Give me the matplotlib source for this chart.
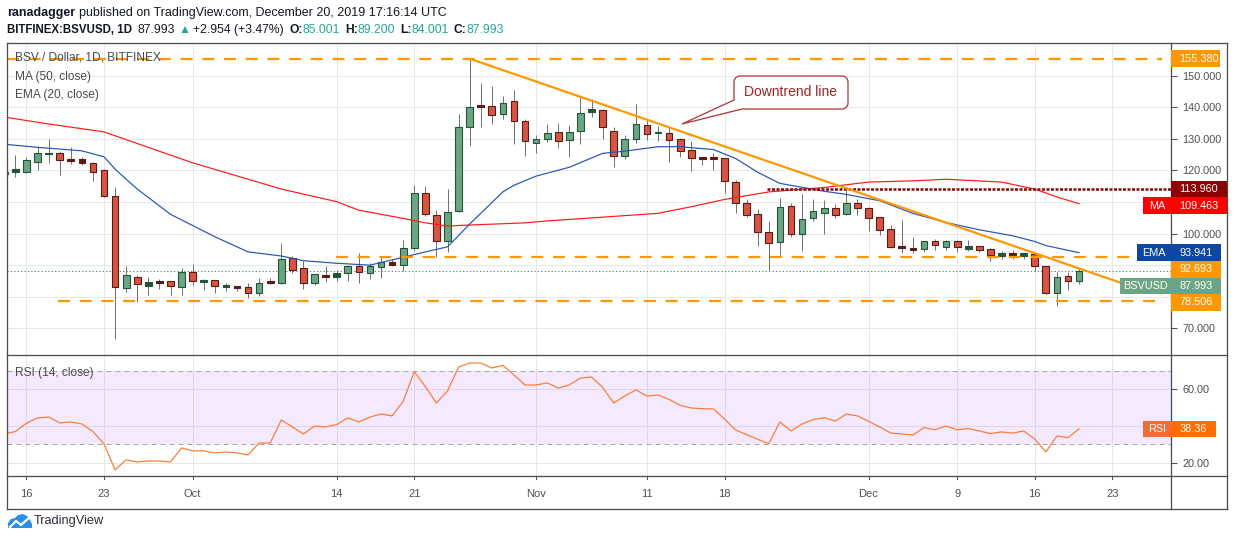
import numpy as np
import pandas as pd
import matplotlib
matplotlib.use("Agg")
import matplotlib.pyplot as plt
from matplotlib.patches import Rectangle, Polygon
from matplotlib.lines import Line2D

# ---------------- data ----------------
start_date = "2019-09-14"
opens = [118.9, 119.4, 119.6, 122.8, 125.3, 125.4, 123.3, 123.5, 122.5, 120.0,
         111.8, 82.7, 86.1, 83.5, 84.6, 84.9, 83.0, 87.9, 84.8, 85.2,
         83.3, 83.4, 83.0, 81.1, 84.9, 84.5, 92.4, 89.0, 84.2, 86.7,
         86.3, 87.4, 89.6, 87.4, 89.3, 90.9, 90.2, 95.3, 112.7, 106.0,
         97.7, 107.2, 133.6, 140.6, 140.5, 138.0, 142.0, 135.5, 128.7, 130.1,
         132.3, 129.6, 132.4, 138.5, 139.0, 132.6, 124.5, 129.8, 134.4, 131.9,
         132.0, 129.8, 126.4, 124.1, 124.1, 123.8, 116.4, 109.8, 106.3, 100.6,
         97.4, 108.7, 100.0, 104.8, 106.6, 108.0, 106.1, 109.6, 108.0, 105.1,
         101.6, 96.0, 95.4, 95.0, 97.5, 95.6, 97.8, 95.2, 96.0, 95.0,
         93.0, 93.7, 93.0, 93.4, 89.6, 81.2, 86.5, 85.001]
highs = [121.0, 124.9, 124.1, 127.7, 130.1, 126.1, 127.3, 124.2, 122.6, 120.4,
         114.6, 89.7, 86.8, 86.2, 85.5, 85.0, 89.0, 90.3, 85.6, 85.3,
         84.2, 83.5, 84.2, 85.9, 85.9, 97.1, 92.8, 91.4, 87.3, 89.7,
         88.4, 89.7, 93.9, 90.6, 92.8, 92.1, 97.9, 115.3, 115.0, 107.6,
         114.1, 138.0, 155.38, 147.8, 146.6, 143.5, 145.4, 136.4, 131.1, 134.6,
         134.9, 134.3, 143.1, 142.5, 139.3, 133.9, 131.1, 141.0, 136.4, 134.0,
         133.3, 130.4, 129.3, 124.2, 125.4, 123.9, 116.9, 111.1, 107.9, 104.0,
         111.4, 109.8, 112.5, 110.8, 110.6, 109.5, 113.5, 110.8, 108.3, 105.2,
         102.7, 104.3, 99.0, 97.8, 98.2, 97.9, 97.9, 97.9, 96.1, 95.5,
         94.4, 94.8, 93.8, 93.5, 89.7, 87.9, 87.9, 89.2]
lows = [118.0, 118.0, 119.3, 120.1, 122.2, 118.7, 121.9, 121.7, 116.6, 111.5,
        66.6, 81.6, 78.4, 80.7, 82.6, 80.7, 80.7, 83.8, 82.2, 81.3,
        81.9, 81.9, 79.5, 80.2, 83.9, 83.9, 87.4, 82.3, 83.7, 84.8,
        85.0, 85.0, 84.4, 85.5, 85.8, 89.7, 88.2, 94.5, 105.6, 92.6,
        94.2, 106.9, 127.8, 133.8, 134.6, 136.2, 128.4, 124.5, 125.6, 129.1,
        127.2, 124.3, 128.5, 136.8, 129.8, 121.1, 123.5, 128.8, 129.6, 129.4,
        122.7, 124.3, 119.9, 121.7, 120.1, 112.9, 106.6, 105.3, 96.1, 88.5,
        93.2, 99.0, 94.5, 104.1, 99.8, 105.0, 106.0, 105.9, 100.9, 99.5,
        95.5, 93.9, 93.9, 94.2, 94.8, 94.8, 94.2, 94.6, 94.2, 91.4,
        92.0, 92.0, 92.0, 88.2, 80.8, 77.2, 82.1, 84.001]
closes = [119.3, 120.3, 123.2, 125.4, 125.4, 123.2, 123.2, 122.5, 119.4, 111.8,
          83.0, 86.8, 83.9, 84.6, 84.5, 83.3, 87.9, 84.9, 85.2, 83.3,
          83.5, 83.0, 81.1, 84.2, 84.5, 92.1, 88.6, 84.2, 87.1, 86.3,
          87.4, 89.6, 87.7, 89.6, 90.9, 89.9, 95.3, 112.7, 106.1, 97.7,
          106.7, 133.6, 140.2, 140.4, 137.7, 141.2, 135.7, 129.3, 130.1, 132.0,
          129.3, 132.3, 138.3, 139.6, 133.6, 124.5, 130.1, 134.8, 131.4, 132.1,
          129.5, 126.3, 124.0, 123.5, 123.7, 116.8, 109.7, 106.0, 100.6, 97.1,
          108.3, 100.0, 104.5, 107.0, 108.0, 106.0, 109.6, 108.2, 104.8, 101.0,
          95.8, 95.5, 94.9, 97.5, 96.3, 97.8, 95.8, 96.0, 94.7, 93.1,
          93.7, 93.1, 93.7, 89.6, 81.2, 86.1, 85.0, 87.993]

ma_days = [0, 4, 9, 17, 25, 30, 32, 36, 38, 40, 42, 47, 49, 59, 62, 65, 69, 74, 78, 82, 85, 90, 93, 95, 97]
ma_vals = [136.9, 134.7, 132.2, 122.4, 114.1, 110.1, 107.4, 104.8, 103.4, 102.4, 102.7, 103.4, 104.0,
           106.4, 108.5, 110.8, 113.2, 114.6, 116.3, 116.7, 117.2, 116.3, 114.1, 111.6, 109.463]
ema_days = [0, 3, 7, 9, 10, 11, 12, 15, 19, 22, 25, 27, 30, 33, 36, 38, 40, 42, 45, 46, 48, 51, 54, 56,
            59, 61, 64, 66, 68, 70, 74, 76, 79, 82, 85, 88, 91, 93, 94, 97]
ema_vals = [128.3, 127.3, 126.2, 124.3, 120.4, 117.2, 114.1, 106.1, 99.0, 94.2, 92.9, 91.4, 90.6, 90.0,
            92.5, 94.2, 95.8, 103.0, 113.2, 115.3, 118.2, 121.0, 125.4, 126.1, 127.5, 127.5, 126.6,
            123.8, 119.4, 115.9, 113.4, 112.4, 110.4, 106.4, 103.5, 101.2, 99.3, 97.5, 96.2, 93.941]
rsi_vals = [35.6, 36.9, 41.4, 44.3, 44.8, 41.6, 42.1, 41.0, 36.9, 30.2,
            16.1, 21.5, 20.4, 20.9, 20.9, 20.4, 28.0, 26.4, 26.4, 25.3,
            25.8, 25.3, 24.2, 30.7, 30.7, 43.2, 39.4, 35.6, 39.9, 39.4,
            40.7, 44.3, 42.1, 44.8, 46.4, 45.4, 53.3, 69.4, 61.3, 52.4,
            58.9, 71.9, 74.1, 74.1, 71.4, 72.8, 67.6, 62.2, 62.2, 63.3,
            60.5, 62.2, 66.0, 66.5, 60.9, 52.4, 56.2, 59.5, 56.2, 56.7,
            54.4, 51.1, 49.7, 49.3, 49.2, 43.7, 37.8, 35.2, 32.7, 30.3,
            42.1, 37.2, 41.0, 43.4, 44.4, 42.6, 46.4, 45.4, 42.5, 39.4,
            36.1, 35.6, 35.0, 39.0, 37.9, 39.9, 37.9, 38.5, 37.2, 35.8,
            36.7, 36.1, 37.2, 32.9, 25.8, 34.5, 33.6, 38.36]

tick_days = [2, 9, 17, 30, 37, 48, 58, 65, 78, 86, 93, 100]
tick_labels = ["16", "23", "Oct", "14", "21", "Nov", "11", "18", "Dec", "9", "16", "23"]
price_grid = [70, 80, 90, 100, 110, 120, 130, 140, 150]
price_labeled = [70, 100, 120, 130, 140, 150]
rsi_grid = [20, 40, 60]
rsi_labeled = [20, 60]

resistance_top = 155.380
resistance_dotted = 113.960
support_mid = 92.693
support_low = 78.506
trend_start = (42, 155.38)
trend_end = (100.7, 84.5)

dates = pd.date_range(start_date, periods=len(closes), freq="D")
days = np.arange(len(dates))

# ---------------- figure ----------------
W, H, DPI = 1234, 540, 100
plt.rcParams['font.family'] = ['Liberation Sans', 'DejaVu Sans']
plt.rcParams['lines.scale_dashes'] = False
fig = plt.figure(figsize=(W / DPI, H / DPI), dpi=DPI)
fig.patch.set_facecolor('white')

def fx(x): return x / W
def fy(y): return 1 - y / H

L, R = 6.7, 1171.0
T, PB, RB, DB = 43.3, 355.0, 476.0, 509.0
RIGHT = 1227.0
PX = 0.72  # points per pixel

ax = fig.add_axes([fx(L), fy(PB), fx(R) - fx(L), (PB - T) / H])
axr = fig.add_axes([fx(L), fy(RB), fx(R) - fx(L), (RB - PB) / H])
axd = fig.add_axes([fx(L), fy(DB), fx(R) - fx(L), (DB - RB) / H])

xlo, xhi = (L - 4.3) / 11.08, (R - 4.3) / 11.08
plo, phi = 61.55, 160.25
rlo, rhi = 12.78, 78.45
for a in (ax, axr, axd):
    a.set_xlim(xlo, xhi)
    a.set_facecolor('white')
    for s in a.spines.values():
        s.set_visible(False)
ax.set_ylim(plo, phi)
axr.set_ylim(rlo, rhi)
axd.set_ylim(0, 1)
axd.set_xticks([]); axd.set_yticks([])

GRID = '#e8e8e8'
for a in (ax, axr):
    for d in tick_days:
        a.axvline(d, color=GRID, lw=PX, zorder=0)
for p in price_grid:
    ax.axhline(p, color=GRID, lw=PX, zorder=0)
for r in rsi_grid:
    axr.axhline(r, color=GRID, lw=PX, zorder=0)

# ticks on right
ax.set_xticks([]); axr.set_xticks([])
ax.yaxis.tick_right()
ax.set_yticks(price_labeled)
ax.set_yticklabels([f"{p:.3f}" for p in price_labeled])
axr.yaxis.tick_right()
axr.set_yticks(rsi_labeled)
axr.set_yticklabels([f"{r:.2f}" for r in rsi_labeled])
for a in (ax, axr):
    a.tick_params(axis='y', length=4, width=0.8, color='#555555', pad=4,
                  labelsize=7.8, labelcolor='#4f4f4f')

# ---------------- candles ----------------
ppu = (PB - T) / (phi - plo)
for i in days:
    o, h, l, c = opens[i], highs[i], lows[i], closes[i]
    up = c >= o
    edge = '#225437' if up else '#5b1a13'
    fill = '#6ba583' if up else '#d75442'
    body = abs(c - o)
    if body * ppu < 3.6:
        fill = edge
    bh = max(body, 0.6)
    bottom = min(o, c) if body >= 0.6 else (o + c) / 2 - 0.3
    ax.vlines(i, l, h, color='#737375', lw=1.0 * PX, zorder=3)
    ax.add_patch(Rectangle((i - 0.3, bottom), 0.6, bh, facecolor=fill,
                           edgecolor=edge, lw=1.1 * PX, zorder=4))

# MA / EMA
ax.plot(ma_days, ma_vals, color='#ff1a1a', lw=1.2 * PX, zorder=5)
ax.plot(ema_days, ema_vals, color='#2456b8', lw=1.2 * PX, zorder=5)

# horizontal levels
ORANGE = '#ff9800'
dash = (12 * PX, 9.7 * PX)
ax.plot([xlo, 104.5], [resistance_top] * 2, color=ORANGE, lw=2.2 * PX, dashes=dash, zorder=6)
ax.plot([29.9, 104.5], [support_mid] * 2, color=ORANGE, lw=2.2 * PX, dashes=dash, zorder=6)
ax.plot([4.85, 104.5], [support_low] * 2, color=ORANGE, lw=2.2 * PX, dashes=dash, zorder=6)
ax.plot([68.8, xhi], [resistance_dotted] * 2, color='#8b0f0f', lw=2.6 * PX,
        dashes=(3 * PX, 1.5 * PX), zorder=6)
ax.plot([xlo, xhi], [closes[-1]] * 2, color='#3f8a60', lw=1.0 * PX,
        dashes=(1.2 * PX, 2.2 * PX), zorder=2)
# downtrend line
ax.plot([trend_start[0], trend_end[0]], [trend_start[1], trend_end[1]],
        color=ORANGE, lw=2.2 * PX, zorder=7, solid_capstyle='round')

# ---------------- RSI ----------------
axr.axhspan(30, 70, facecolor='#9915ff', alpha=0.09, lw=0, zorder=1)
for lv in (30, 70):
    axr.axhline(lv, color='#aaa3b0', lw=1.0 * PX, dashes=(5 * PX, 4 * PX), zorder=2)
axr.plot(days, rsi_vals, color='#ff7a2e', lw=1.2 * PX, zorder=5)

# ---------------- date axis ----------------
for d, lab in zip(tick_days, tick_labels):
    axd.plot([d, d], [0.91, 1.0], color='#555555', lw=0.8)
    axd.text(d, 0.46, lab, ha='center', va='center', fontsize=8.0, color='#4f4f4f')

# ---------------- frame lines ----------------
FRAME = '#4d4d4d'
def fline(x0, y0, x1, y1, lw=1.3, color=FRAME):
    fig.add_artist(Line2D([fx(x0), fx(x1)], [fy(y0), fy(y1)], transform=fig.transFigure,
                          color=color, lw=lw * PX, zorder=8))
fline(L, T, RIGHT, T)
fline(L, DB, RIGHT, DB)
fline(L, T, L, DB)
fline(RIGHT, T, RIGHT, DB)
fline(R, T, R, DB)
fline(L, PB, RIGHT, PB)
fline(L, RB, RIGHT, RB)

# ---------------- right-axis labels ----------------
def ypx_price(p):
    return PB - (p - plo) * ppu

def ypx_rsi(r):
    return RB - (r - rlo) * (RB - PB) / (rhi - rlo)

def box(x0, x1, yc, text, bg, h=16.6, align='left', fg='white', size=7.8):
    fig.add_artist(Rectangle((fx(x0), fy(yc + h / 2)), fx(x1) - fx(x0), h / H,
                             transform=fig.transFigure, facecolor=bg, edgecolor='none', zorder=9))
    if align == 'left':
        fig.text(fx(1179.5), fy(yc), text, ha='left', va='center', color=fg, fontsize=size, zorder=10)
    else:
        fig.text(fx((x0 + x1) / 2), fy(yc), text, ha='center', va='center', color=fg,
                 fontsize=size, zorder=10)

y_ema = ypx_price(ema_vals[-1])
box(R, 1220, ypx_price(resistance_top), f"{resistance_top:.3f}", ORANGE)
box(R, RIGHT, ypx_price(resistance_dotted), f"{resistance_dotted:.3f}", '#8b0000')
y_ma = ypx_price(ma_vals[-1]) + 2
box(1143, R, y_ma, "MA", '#ff0000', align='center')
box(R, RIGHT, y_ma, f"{ma_vals[-1]:.3f}", '#ff0000')
box(1137, R, y_ema, "EMA", '#0d47a1', align='center')
box(R, 1221, y_ema, f"{ema_vals[-1]:.3f}", '#0d47a1')
box(R, 1221, y_ema + 16.6, f"{support_mid:.3f}", ORANGE)
box(1120, R, y_ema + 33.2, "BSVUSD", '#6ba583', align='center')
box(R, 1221, y_ema + 33.2, f"{closes[-1]:.3f}", '#6ba583')
box(R, 1221, ypx_price(support_low) + 1, f"{support_low:.3f}", ORANGE)
y_rsi = ypx_rsi(rsi_vals[-1])
box(1143, R, y_rsi, "RSI", '#f26b38', align='center')
box(R, 1216, y_rsi, f"{rsi_vals[-1]:.2f}", '#ff6d00')

# ---------------- pane legends ----------------
LEG = '#4a4a4a'
fig.text(fx(15), fy(58), "BSV / Dollar, 1D, BITFINEX", fontsize=8.6, color=LEG, va='center')
fig.text(fx(15), fy(77), "MA (50, close)", fontsize=8.6, color=LEG, va='center')
fig.text(fx(15), fy(95), "EMA (20, close)", fontsize=8.6, color=LEG, va='center')
fig.text(fx(15), fy(373), "RSI (14, close)", fontsize=8.6, color=LEG, va='center')

# ---------------- callout ----------------
def arc(cx, cy, r, a0, a1, n=8):
    a = np.radians(np.linspace(a0, a1, n))
    return list(zip(cx + r * np.cos(a), cy + r * np.sin(a)))

bl, br, bt, bb, rr = 734.0, 848.0, 76.0, 109.0, 6.0
pts = []
pts += arc(bl + rr, bt + rr, rr, 180, 270)
pts += arc(br - rr, bt + rr, rr, 270, 360)
pts += arc(br - rr, bb - rr, rr, 0, 90)
pts += [(742.0, bb), (682.0, 124.0), (bl, 100.0)]
fig.add_artist(Polygon([(fx(x), fy(y)) for x, y in pts], closed=True, transform=fig.transFigure,
                       facecolor='white', edgecolor='#b03a3a', lw=1.3 * PX, zorder=9))
fig.text(fx((bl + br) / 2), fy(92.5), "Downtrend line", ha='center', va='center',
         fontsize=10, color='#a32424', zorder=10)

# ---------------- header ----------------
renderer = fig.canvas.get_renderer()

def seq_text(x, y, pieces):
    for s, color, weight, gap, size in pieces:
        t = fig.text(fx(x), fy(y), s, color=color, fontsize=size, fontweight=weight,
                     ha='left', va='center')
        bb = t.get_window_extent(renderer)
        x = bb.x1 + gap

DARK = '#131722'
TEAL = '#26a69a'
seq_text(7, 13, [("ranadagger", DARK, 'bold', 3.5, 9.0),
                 ("published on TradingView.com, December 20, 2019 17:16:14 UTC", DARK, 'normal', 0, 9.0)])
S2 = 8.7
seq_text(7, 30, [("BITFINEX:BSVUSD, 1D", DARK, 'bold', 5, 8.3),
                 ("87.993", DARK, 'normal', 4, S2),
                 ("\u25B2", TEAL, 'normal', 3, S2),
                 ("+2.954 (+3.47%)", DARK, 'normal', 5, S2),
                 ("O:", DARK, 'bold', 0, S2), ("85.001", TEAL, 'normal', 5, S2),
                 ("H:", DARK, 'bold', 0, S2), ("89.200", TEAL, 'normal', 5, S2),
                 ("L:", DARK, 'bold', 0, S2), ("84.001", TEAL, 'normal', 5, S2),
                 ("C:", DARK, 'bold', 0, S2), ("87.993", TEAL, 'normal', 0, S2)])

# ---------------- footer logo ----------------
logo = [(8, 528), (8, 523), (11, 519), (15, 518), (18, 515), (23, 514), (27, 516), (30, 520),
        (32, 524), (32, 528)]
fig.add_artist(Polygon([(fx(x), fy(y)) for x, y in logo], closed=True, transform=fig.transFigure,
                       facecolor='#2a8fe8', edgecolor='none', zorder=9))
zig = [(10, 527), (16, 521), (21, 525), (29, 518)]
fig.add_artist(Line2D([fx(x) for x, y in zig], [fy(y) for x, y in zig], transform=fig.transFigure,
                      color='white', lw=1.6, zorder=10))
fig.text(fx(34), fy(521), "TradingView", fontsize=9.2, color='#2a2e39', va='center')

fig.savefig("out.png", dpi=DPI, facecolor='white')
